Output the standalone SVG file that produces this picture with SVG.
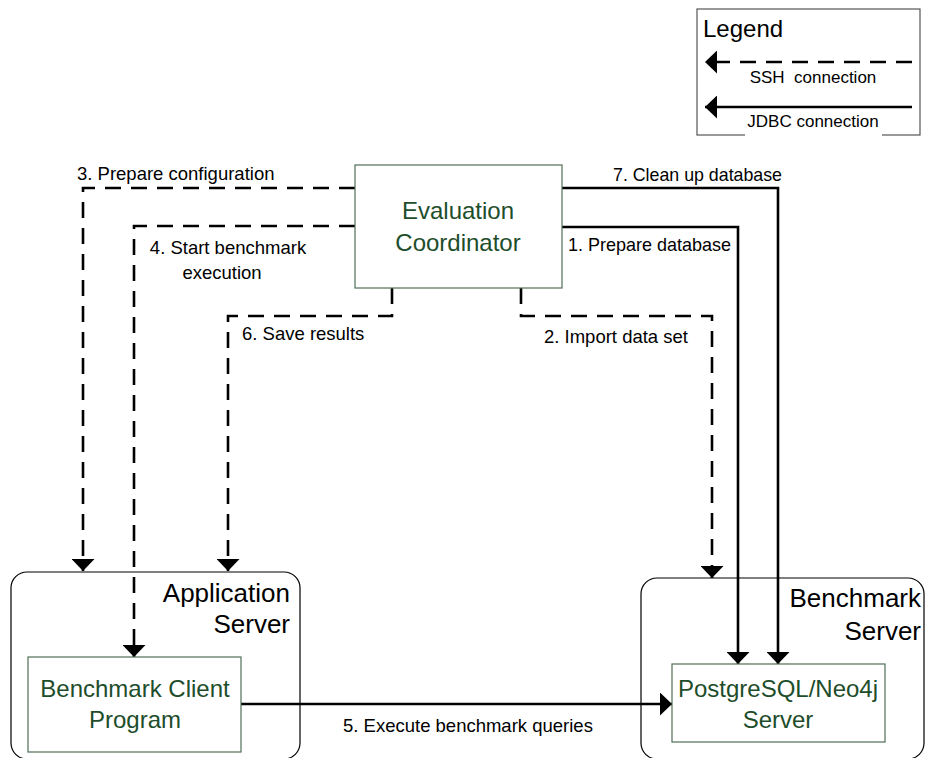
<svg xmlns="http://www.w3.org/2000/svg" width="927" height="758" viewBox="0 0 927 758">
<style>
.lbl{font-family:"Liberation Sans",Arial,sans-serif;font-size:18.5px;fill:#000;}
.node{fill:#fff;stroke:#4f6e55;stroke-width:1.2;}
.ntxt{font-family:"Liberation Sans",Arial,sans-serif;font-size:24px;fill:#1e4d2b;text-anchor:middle;}
.ctxt{font-family:"Liberation Sans",Arial,sans-serif;font-size:26px;fill:#000;text-anchor:end;}
.cont{fill:none;stroke:#000;stroke-width:1.2;}
.ssh{fill:none;stroke:#000;stroke-width:2.6;stroke-dasharray:16 10;}
.jdbc{fill:none;stroke:#000;stroke-width:2.6;}
</style>
<defs>
<marker id="ah" markerUnits="userSpaceOnUse" markerWidth="12" markerHeight="23" viewBox="0 0 12 23" refX="12" refY="11.5" orient="auto">
<path d="M0,0 L12,11.5 L0,23 Z" fill="#000"/>
</marker>
</defs>
<rect width="927" height="758" fill="#fff"/>

<g id="legend">
<rect x="697" y="9" width="223" height="126" fill="#fff" stroke="#555" stroke-width="1.2"/>
<text x="703" y="37" font-family="Liberation Sans, Arial, sans-serif" font-size="24">Legend</text>
<path class="ssh" d="M912,62 H705" marker-end="url(#ah)"/>
<text class="lbl" x="813" y="83" text-anchor="middle" style="white-space:pre;font-size:17px">SSH  connection</text>
<path class="jdbc" d="M912,107 H705" marker-end="url(#ah)"/>
<rect x="745" y="112" width="137" height="26" fill="#fff"/>
<text class="lbl" x="813" y="127" text-anchor="middle" style="font-size:17px">JDBC connection</text>
</g>

<g id="application-server">
<rect class="cont" x="11" y="572" width="289" height="187" rx="16"/>
<text class="ctxt" x="290" y="602">Application</text>
<text class="ctxt" x="290" y="633">Server</text>
</g>

<g id="benchmark-server">
<rect class="cont" x="641" y="578" width="283" height="181" rx="16"/>
<text class="ctxt" x="921" y="607">Benchmark</text>
<text class="ctxt" x="921" y="640">Server</text>
</g>

<g id="connectors">
<path class="ssh" d="M355,188 H83 V571" marker-end="url(#ah)"/>
<path class="ssh" d="M355,226 H134 V657" marker-end="url(#ah)"/>
<path class="ssh" d="M392,288 V316 H228 V571" marker-end="url(#ah)"/>
<path class="ssh" d="M521,288 V316 H712 V578" marker-end="url(#ah)"/>
<path class="jdbc" d="M562,227 H738 V664" marker-end="url(#ah)"/>
<path class="jdbc" d="M562,188 H778 V664" marker-end="url(#ah)"/>
<path class="jdbc" d="M241,704 H672" marker-end="url(#ah)"/>
<text class="lbl" x="77" y="180">3. Prepare configuration</text>
<text class="lbl" x="228" y="254" text-anchor="middle">4. Start benchmark</text>
<text class="lbl" x="222" y="279" text-anchor="middle">execution</text>
<text class="lbl" x="613" y="181" textLength="169" lengthAdjust="spacingAndGlyphs">7. Clean up database</text>
<text class="lbl" x="568" y="251" textLength="163" lengthAdjust="spacingAndGlyphs">1. Prepare database</text>
<text class="lbl" x="544" y="343">2. Import data set</text>
<text class="lbl" x="242" y="340">6. Save results</text>
<text class="lbl" x="343" y="732">5. Execute benchmark queries</text>
</g>

<g id="evaluation-coordinator">
<rect class="node" x="355" y="165" width="207" height="123"/>
<text class="ntxt" x="458" y="219">Evaluation</text>
<text class="ntxt" x="458" y="251">Coordinator</text>
</g>

<g id="benchmark-client">
<rect class="node" x="28" y="657" width="213" height="95"/>
<text class="ntxt" x="135" y="697">Benchmark Client</text>
<text class="ntxt" x="135" y="728">Program</text>
</g>

<g id="postgres-neo4j">
<rect class="node" x="672" y="664" width="213" height="78"/>
<text class="ntxt" x="778" y="697">PostgreSQL/Neo4j</text>
<text class="ntxt" x="778" y="728">Server</text>
</g>
</svg>
